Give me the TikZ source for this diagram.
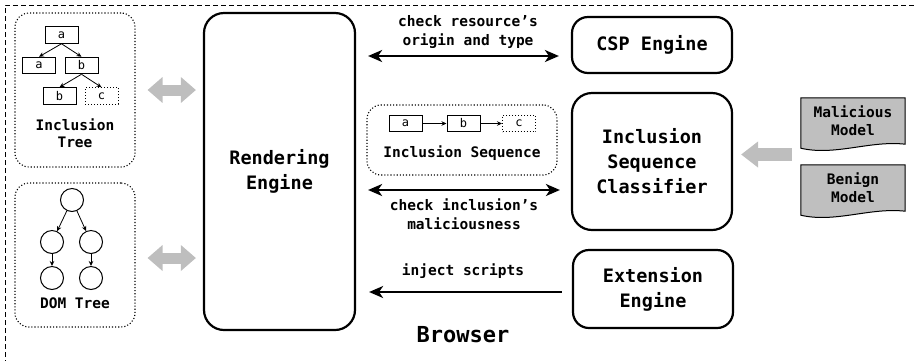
\documentclass[tikz,border=0pt]{standalone}
\usepackage{fontspec}
\setmonofont{DejaVu Sans Mono}
\usetikzlibrary{arrows.meta,calc,backgrounds}
\definecolor{arrowgray}{HTML}{BEBEBE}
\definecolor{modelgray}{HTML}{BFBFBF}
\tikzset{
  btip/.tip={Stealth[length=14pt,width=12pt,inset=4pt]},
  gtip/.tip={Triangle[length=15pt,width=25pt]},
  mtip/.tip={Triangle[length=17pt,width=25pt]}
}
\begin{document}
\begin{tikzpicture}[x=1pt,y=-1pt,
  font=\ttfamily\bfseries,
  engine/.style={draw,line width=2.2pt,rounded corners=16pt,align=center,inner sep=0pt,
    font=\ttfamily\bfseries\fontsize{18.5}{25}\selectfont},
  groupbox/.style={draw,dotted,line width=1.1pt,rounded corners=14pt,inner sep=0pt},
  tnode/.style={draw,line width=1pt,minimum width=33pt,minimum height=16.5pt,inner sep=0pt,
    font=\ttfamily\fontsize{12}{12}\selectfont},
  tdot/.style={tnode,dotted},
  circ/.style={draw,circle,line width=1pt,minimum size=23pt,inner sep=0pt},
  tarrow/.style={-{Stealth[length=5pt,width=4.5pt]},line width=0.8pt},
  mainarrow/.style={line width=2pt},
  lbl/.style={font=\ttfamily\bfseries\fontsize{14.5}{19}\selectfont,align=center},
  grayarrow/.style={draw=arrowgray,line width=11pt},
  model/.style={minimum width=104pt,minimum height=46pt,inner sep=0pt,align=center,
    font=\ttfamily\bfseries\fontsize{14.5}{18}\selectfont},
  framestyle/.style={dash pattern=on 5pt off 3pt,line width=0.8pt}
]
\useasboundingbox (0,0) rectangle (915,360);
\draw[framestyle] (5,365) -- (5,5) -- (920,5);

% Inclusion tree
\node[groupbox,minimum width=120pt,minimum height=154pt] (treebox) at (75,90) {};
\node[tnode] (ta) at (61.5,35) {a};
\node[tnode] (tal) at (39,65.5) {a};
\node[tnode] (tb) at (81.5,65.5) {b};
\node[tnode] (tbb) at (59.5,96) {b};
\node[tdot] (tc) at (101.5,96) {c};
\draw[tarrow] (ta.south) -- (tal.north);
\draw[tarrow] (ta.south) -- (tb.north);
\draw[tarrow] (tb.south) -- (tbb.north);
\draw[tarrow] (tb.south) -- (tc.north);
\node[lbl,font=\ttfamily\bfseries\fontsize{14.5}{17}\selectfont] (treelbl) at (75,133.5) {Inclusion\\Tree};

% DOM tree
\node[groupbox,minimum width=120pt,minimum height=144pt] (dombox) at (75,255) {};
\node[circ] (d0) at (72,200) {};
\node[circ] (d1) at (52,242) {};
\node[circ] (d2) at (91,242) {};
\node[circ] (d3) at (52,278) {};
\node[circ] (d4) at (91,278) {};
\draw[tarrow] (d0) -- (d1);
\draw[tarrow] (d0) -- (d2);
\draw[tarrow] (d1) -- (d3);
\draw[tarrow] (d2) -- (d4);
\node[lbl] (domlbl) at (75,303) {DOM Tree};

% Engines
\node[engine,minimum width=151pt,minimum height=317pt,rounded corners=20pt] (rend) at (279.5,171.5) {Rendering\\Engine};
\node[engine,minimum width=160pt,minimum height=56pt] (csp) at (652,45) {CSP Engine};
\node[engine,minimum width=160pt,minimum height=137pt,rounded corners=20pt] (cls) at (652,161.5) {Inclusion\\Sequence\\Classifier};
\node[engine,minimum width=160pt,minimum height=78pt] (ext) at (653,289) {Extension\\Engine};

% Gray arrows to rendering engine
\draw[grayarrow,{gtip}-{gtip}] ($(treebox.east)+(12,0)$) -- ($(rend.west|-treebox.east)+(-7,0)$);
\draw[grayarrow,{gtip}-{gtip}] ($(dombox.east)+(12,3)$) -- ($(rend.west|-dombox.east)+(-7,3)$);

% Inclusion sequence
\node[groupbox,minimum width=190pt,minimum height=70pt] (seqbox) at (462,140) {};
\node[tnode] (sa) at (405.5,123.5) {a};
\node[tnode] (sb) at (463.5,123.5) {b};
\node[tdot] (sc) at (519,123.5) {c};
\draw[tarrow] (sa) -- (sb);
\draw[tarrow] (sb) -- (sc);
\node[lbl] (seqlbl) at (462,153) {Inclusion Sequence};

% Black arrows
\draw[mainarrow,{btip}-{btip}] ($(rend.east|-csp.west)+(12,11)$) -- ($(csp.west)+(-12,11)$);
\node[lbl] (l1) at (468,32) {check resource’s\\origin and type};
\draw[mainarrow,{btip}-{btip}] ($(rend.east|-cls.west)+(12,28.5)$) -- ($(cls.west)+(-11,28.5)$);
\node[lbl] (l2) at (464,214) {check inclusion’s\\maliciousness};
\draw[mainarrow,-{btip}] ($(ext.west)+(-10,3)$) -- ($(rend.east|-ext.west)+(13,3)$);
\node[lbl] (l3) at (463,271) {inject scripts};

\node[font=\ttfamily\bfseries\fontsize{22}{22}\selectfont] (browser) at (463,335) {Browser};

% Models
\node[model] (mal) at (853,121) {Malicious\\Model};
\node[model] (ben) at (853,188) {Benign\\Model};
\begin{scope}[on background layer]
\foreach \m in {mal,ben}{
  \draw[fill=modelgray,line width=1pt] ($(\m.south west)+(0,4)$) -- (\m.north west) -- (\m.north east) -- (\m.south east)
    .. controls ($(\m.south east)+(-35,-4)$) and ($(\m.south west)+(34,12)$) .. ($(\m.south west)+(0,4)$) -- cycle;
}
\end{scope}
\coordinate (mm) at ($(mal.west)!0.5!(ben.west)$);
\draw[grayarrow,line width=13pt,-{mtip}] ($(mm)+(-9,0)$) -- ($(cls.east|-mm)+(8,0)$);
\end{tikzpicture}
\end{document}
